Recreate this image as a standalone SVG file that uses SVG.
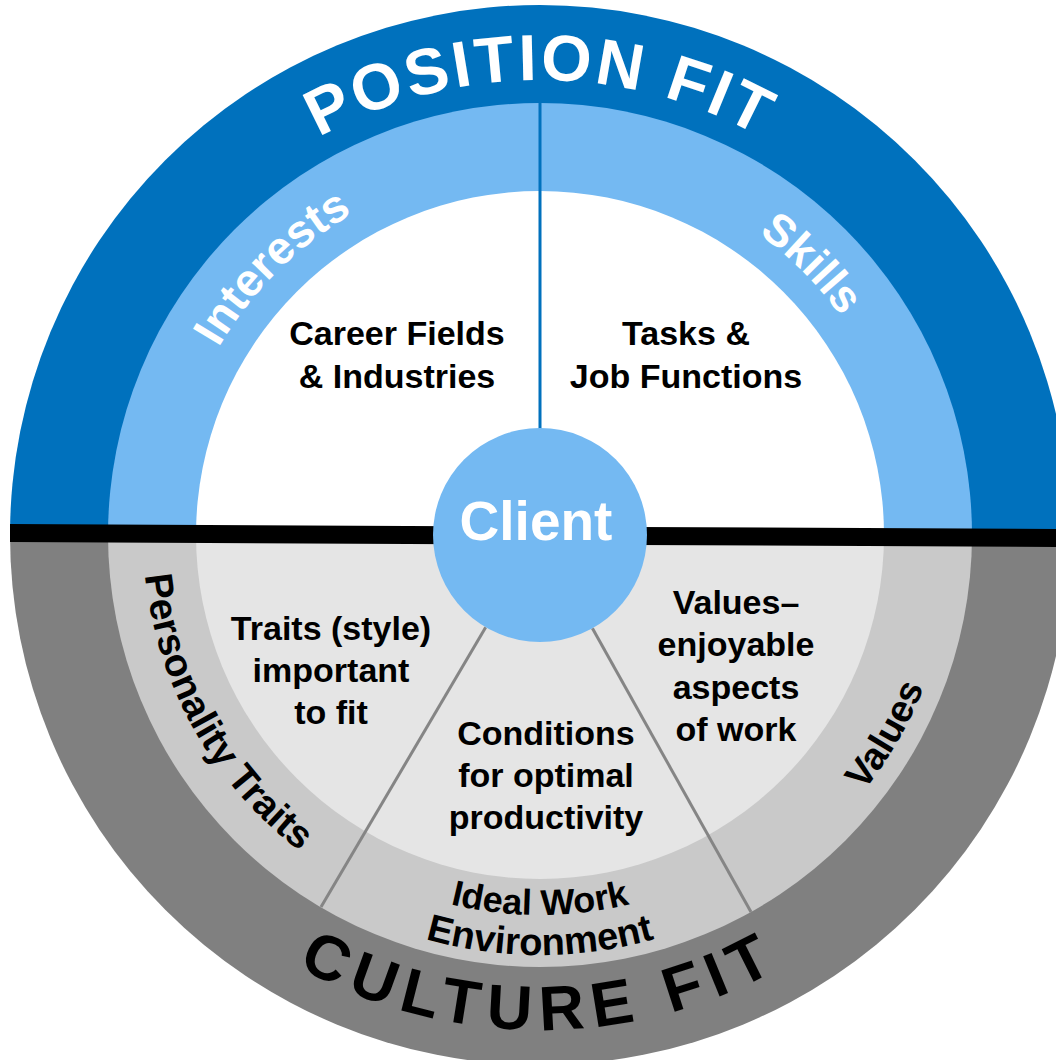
<svg xmlns="http://www.w3.org/2000/svg" width="1056" height="1060" viewBox="0 0 1056 1060">
<style>
.b{font-family:"Liberation Sans",Arial,Helvetica,sans-serif;font-weight:700}
.inner{font-size:34px;fill:#000;text-anchor:middle}
.arcw{fill:#fff}
.arck{fill:#000}
.conn{stroke:#858585;stroke-width:3;fill:none}
</style>
<defs>
<path id="pPos" d="M85,535 A455,455 0 0 1 995,535"/>
<path id="pInt" d="M168,535 A372,372 0 0 1 540,163"/>
<path id="pSk" d="M540,163 A372,372 0 0 1 912,535"/>
<path id="pCul" d="M45,535 A495,495 0 0 0 1035,535"/>
<path id="pPers" d="M168.6,394.7 A397,397 0 0 0 466.3,925.1"/>
<path id="pVal" d="M646.9,933.9 A413,413 0 0 0 938.9,428.1"/>
<path id="pIdeal" d="M160,535 A380,380 0 0 0 920,535"/>
<path id="pEnv" d="M120,535 A420,420 0 0 0 960,535"/>
</defs>
<rect width="1056" height="1060" fill="#fff"/>
<g id="position-fit">
<path d="M10,535 A530,530 0 0 1 1070,535 Z" fill="#0071BD"/>
<text class="b arcw" font-size="65" letter-spacing="3" text-anchor="middle"><textPath href="#pPos" startOffset="50%">POSITION FIT</textPath></text>
</g>
<g id="culture-fit">
<path d="M10,535 A530,530 0 0 0 1070,535 Z" fill="#808080"/>
<text class="b arck" font-size="63" letter-spacing="9" text-anchor="middle"><textPath href="#pCul" startOffset="50%">CULTURE FIT</textPath></text>
</g>
<g id="interests-skills-ring">
<path d="M108,535 A432,432 0 0 1 972,535 Z" fill="#74B9F2"/>
<path d="M196,535 A344,344 0 0 1 884,535 Z" fill="#fff"/>
</g>
<g id="culture-ring">
<path d="M108,535 A432,432 0 0 0 972,535 Z" fill="#C9C9C9"/>
<path d="M196,535 A344,344 0 0 0 884,535 Z" fill="#E5E5E5"/>
</g>
<g id="connectors">
<line class="conn" x1="485.7" y1="627.2" x2="321" y2="907"/>
<line class="conn" x1="592.4" y1="628.3" x2="751" y2="912"/>
<line x1="540" y1="103" x2="540" y2="430" stroke="#0071BD" stroke-width="3"/>
<polygon points="10,524 1056,529 1056,547 10,542" fill="#000"/>
</g>
<g id="interests">
<text class="b arcw" font-size="46" text-anchor="middle"><textPath href="#pInt" startOffset="50%">Interests</textPath></text>
</g>
<g id="skills">
<text class="b arcw" font-size="45" text-anchor="middle"><textPath href="#pSk" startOffset="50%">Skills</textPath></text>
</g>
<g id="career-fields">
<text class="b inner" x="397" y="345">Career Fields</text>
<text class="b inner" x="397" y="388">&amp; Industries</text>
</g>
<g id="tasks">
<text class="b inner" x="686" y="345">Tasks &amp;</text>
<text class="b inner" x="686" y="388">Job Functions</text>
</g>
<g id="personality-traits">
<text class="b arck" font-size="39" text-anchor="middle"><textPath href="#pPers" startOffset="50%">Personality Traits</textPath></text>
<text class="b inner" x="331" y="640">Traits (style)</text>
<text class="b inner" x="331" y="682">important</text>
<text class="b inner" x="331" y="724">to fit</text>
</g>
<g id="ideal-work-environment">
<text class="b arck" font-size="36" text-anchor="middle"><textPath href="#pIdeal" startOffset="50%">Ideal Work</textPath></text>
<text class="b arck" font-size="38" text-anchor="middle"><textPath href="#pEnv" startOffset="50%">Environment</textPath></text>
<text class="b inner" x="546" y="745">Conditions</text>
<text class="b inner" x="546" y="787">for optimal</text>
<text class="b inner" x="546" y="829">productivity</text>
</g>
<g id="values">
<text class="b arck" font-size="38" text-anchor="middle"><textPath href="#pVal" startOffset="50%">Values</textPath></text>
<text class="b inner" x="736" y="614">Values–</text>
<text class="b inner" x="736" y="656">enjoyable</text>
<text class="b inner" x="736" y="699">aspects</text>
<text class="b inner" x="736" y="741">of work</text>
</g>
<g id="client">
<circle cx="540" cy="535" r="107" fill="#74B9F2"/>
<text class="b" font-size="55" fill="#fff" text-anchor="middle" x="536" y="540">Client</text>
</g>
</svg>
